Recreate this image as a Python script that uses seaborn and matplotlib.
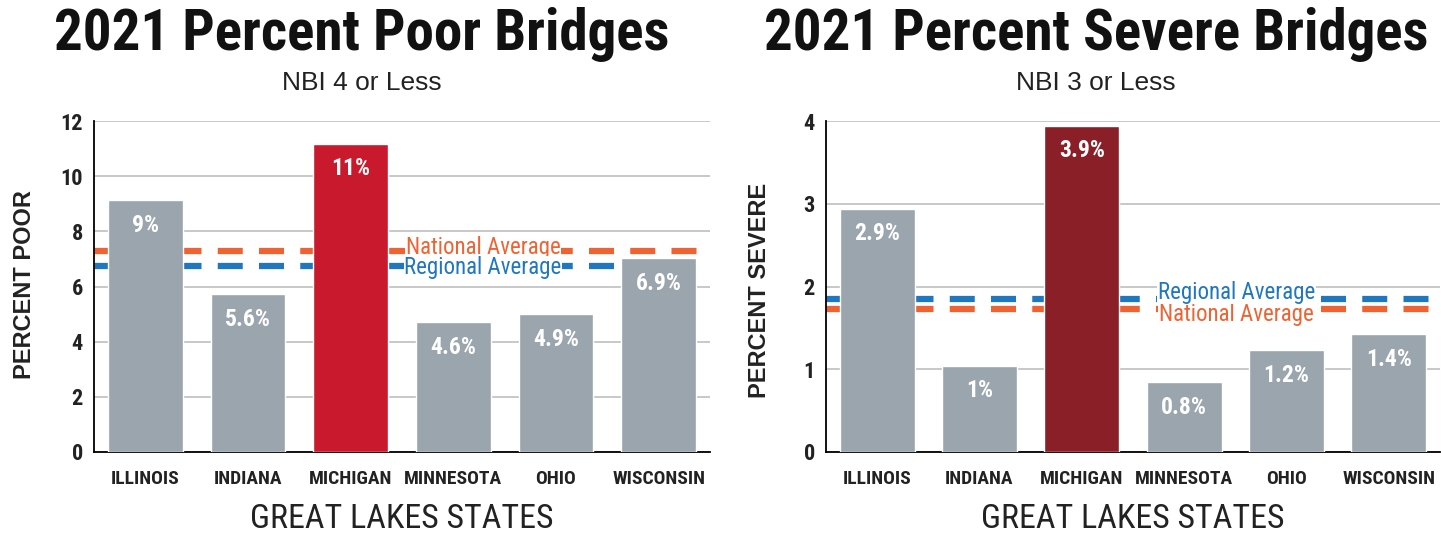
import os
import numpy as np
import pandas as pd
import matplotlib
matplotlib.use("Agg")
import matplotlib.pyplot as plt
import matplotlib.font_manager as fm
import seaborn as sns

states = ["ILLINOIS", "INDIANA", "MICHIGAN", "MINNESOTA", "OHIO", "WISCONSIN"]

poor_vals = [9.13, 5.71, 11.17, 4.71, 5.0, 7.03]
poor_labels = ["9%", "5.6%", "11%", "4.6%", "4.9%", "6.9%"]
poor_national = 7.28
poor_regional = 6.74

severe_vals = [2.94, 1.04, 3.94, 0.84, 1.23, 1.42]
severe_labels = ["2.9%", "1%", "3.9%", "0.8%", "1.2%", "1.4%"]
severe_national = 1.73
severe_regional = 1.85

GRAY = "#9aa5ad"
ORANGE = "#ef6232"
BLUE = "#1f77c0"


def weight_num(w):
    if isinstance(w, int):
        return w
    return {"black": 900, "heavy": 900, "extra bold": 800, "bold": 700,
            "semibold": 600, "demibold": 600, "medium": 500}.get(str(w).lower(), 400)


def narrow_font(target):
    # look for any condensed / narrow face that is installed
    found = []
    for f in fm.fontManager.ttflist:
        base = os.path.basename(f.fname).lower()
        is_narrow = ("narrow" in f.name.lower() or "condensed" in base or "narrow" in base
                     or str(f.stretch) in ("condensed", "semi-condensed", "extra-condensed"))
        if not is_narrow:
            continue
        if "italic" in base or "oblique" in base or f.style != "normal":
            continue
        found.append((f, weight_num(f.weight)))
    if not found:
        return None
    found.sort(key=lambda t: (0 if "liberation" in t[0].fname.lower() else
                              1 if "roboto" in t[0].fname.lower() else 2,
                              abs(t[1] - target)))
    return fm.FontProperties(fname=found[0][0].fname)


FACES = {w: narrow_font(w) for w in (400, 700, 900)}


def fp(size, weight=400):
    base = FACES[weight]
    if base is None:
        p = fm.FontProperties(family=["Liberation Sans", "DejaVu Sans"],
                              weight="bold" if weight >= 700 else "normal")
    else:
        p = base.copy()
    p.set_size(size)
    return p


sns.set_style("white")
plt.rcParams["font.family"] = ["Liberation Sans", "DejaVu Sans"]

fig = plt.figure(figsize=(14.41, 5.36), dpi=100)
ax1 = fig.add_axes([94 / 1441, 1 - 452 / 536, 616 / 1441, 331 / 536])
ax2 = fig.add_axes([826 / 1441, 1 - 452 / 536, 614 / 1441, 331 / 536])


def draw(ax, vals, labels, mich_color, ymax, ystep, nat, reg, nat_y, reg_y, text_x):
    df = pd.DataFrame({"state": states, "value": vals})
    colors = [mich_color if s == "MICHIGAN" else GRAY for s in states]
    sns.barplot(data=df, x="state", y="value", hue="state", palette=colors,
                legend=False, width=0.73, saturation=1, ax=ax, zorder=3)
    ax.set_xlim(-0.5, 5.5)
    ax.set_ylim(0, ymax)
    ax.set_yticks(np.arange(0, ymax + ystep / 2, ystep))
    ax.yaxis.grid(True, color="#c4c4c4", lw=1.3, zorder=0)
    ax.set_axisbelow(True)
    for s in ["top", "right"]:
        ax.spines[s].set_visible(False)
    for s in ["left", "bottom"]:
        ax.spines[s].set_color("black")
        ax.spines[s].set_linewidth(1.3)
    ax.set_xticks(np.arange(0.5, 6, 1), minor=True)
    ax.tick_params(axis="x", which="minor", direction="in", length=7, width=1.3, color="black")
    ax.tick_params(axis="x", which="major", length=0, pad=13)
    ax.tick_params(axis="y", length=0, pad=8)
    for t in ax.get_xticklabels():
        t.set_fontproperties(fp(14, 700))
        t.set_color("#222222")
    for t in ax.get_yticklabels():
        t.set_fontproperties(fp(16, 700))
        t.set_color("#222222")
    ax.axhline(nat, color=ORANGE, lw=4.5, dashes=(4, 2.6), zorder=2)
    ax.axhline(reg, color=BLUE, lw=4.5, dashes=(4, 2.6), zorder=2)
    box = dict(facecolor="white", edgecolor="none", pad=0.5)
    ax.text(text_x, nat_y, "National Average", color=ORANGE, ha="center", va="center",
            fontproperties=fp(16.5), bbox=box, zorder=4)
    ax.text(text_x, reg_y, "Regional Average", color=BLUE, ha="center", va="center",
            fontproperties=fp(16.5), bbox=box, zorder=4)
    for i, (v, lab) in enumerate(zip(vals, labels)):
        ax.annotate(lab, (i, v), xytext=(0, -18), textcoords="offset points",
                    ha="center", va="center", color="white",
                    fontproperties=fp(17, 700), zorder=5)
    ax.set_xlabel("GREAT LAKES STATES", fontproperties=fp(24.5), labelpad=11,
                  color="#222222")
    ax.set_ylabel("")


draw(ax1, poor_vals, poor_labels, "#c81a2c", 12, 2, poor_national, poor_regional,
     7.43, 6.68, 3.29)
draw(ax2, severe_vals, severe_labels, "#8a1f28", 4, 1, severe_national, severe_regional,
     1.66, 1.93, 3.51)

fig.text(25 / 1441, 1 - 285 / 536, "PERCENT POOR", rotation=90, ha="center", va="center",
         fontsize=17, fontweight="bold", color="#222222")
fig.text(760 / 1441, 1 - 290 / 536, "PERCENT SEVERE", rotation=90, ha="center", va="center",
         fontsize=17, fontweight="bold", color="#222222")

fig.text(362 / 1441, 1 - 35 / 536, "2021 Percent Poor Bridges", ha="center", va="center",
         fontproperties=fp(41, 900), color="#111111")
fig.text(1096 / 1441, 1 - 35 / 536, "2021 Percent Severe Bridges", ha="center", va="center",
         fontproperties=fp(41, 900), color="#111111")
fig.text(362 / 1441, 1 - 83 / 536, "NBI 4 or Less", ha="center", va="center",
         fontsize=19, color="#222222")
fig.text(1096 / 1441, 1 - 83 / 536, "NBI 3 or Less", ha="center", va="center",
         fontsize=19, color="#222222")

fig.savefig("out.png", dpi=100)
